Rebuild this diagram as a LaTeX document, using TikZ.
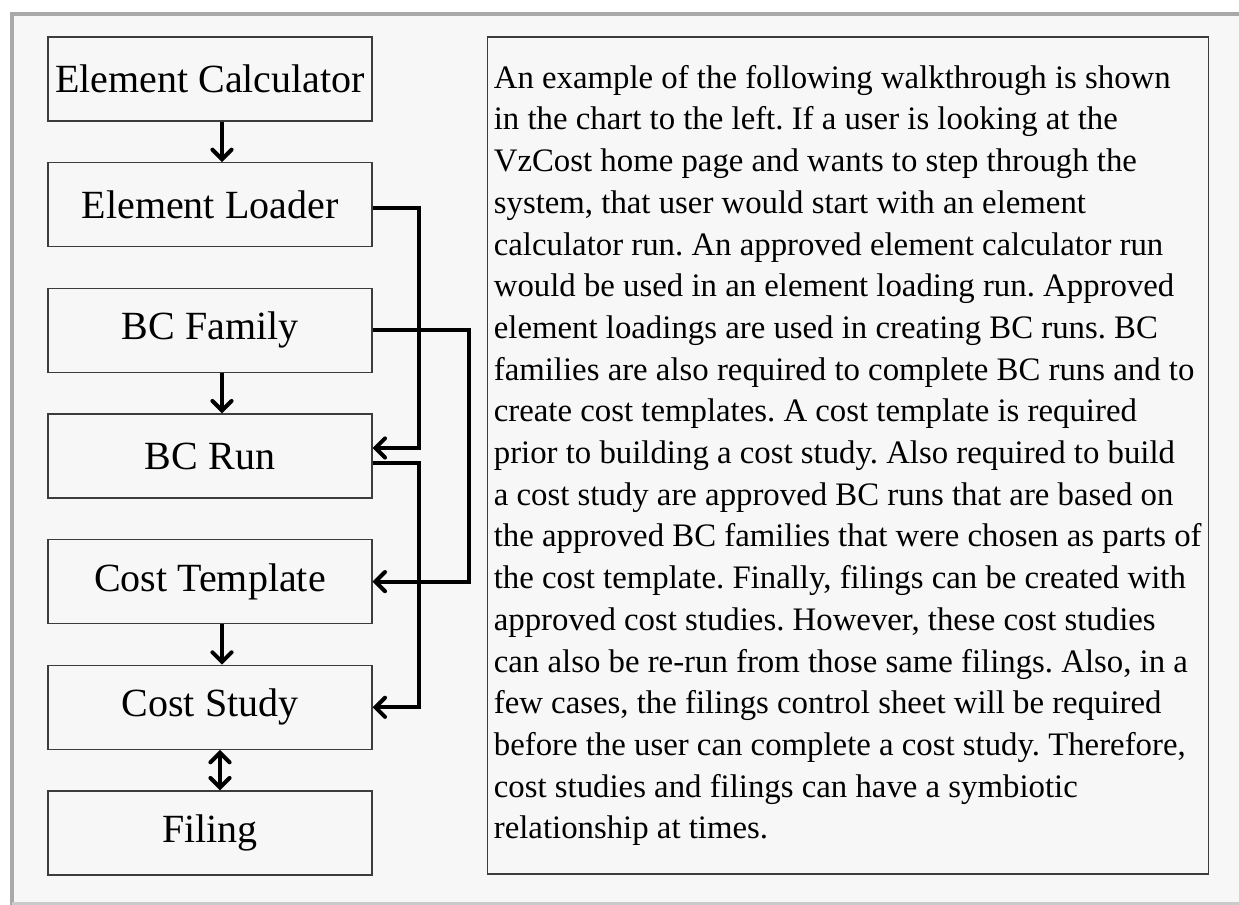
\documentclass[tikz,border=0pt]{standalone}
\usepackage{fontspec}
\setmainfont{Liberation Serif}
\usetikzlibrary{arrows, positioning}
\definecolor{panel}{HTML}{F7F7F7}
\definecolor{framegray}{HTML}{A9A9A9}
\definecolor{boxline}{HTML}{3C3C3C}
\tikzstyle{stage} = [rectangle, minimum width=162pt, minimum height=42pt, text centered, draw=boxline, line width=0.6pt, font=\fontsize{20}{24}\selectfont]
\tikzstyle{notes} = [rectangle, minimum width=360pt, minimum height=418.5pt, align=left, draw=boxline, line width=0.6pt, font=\frenchspacing\fontsize{16.4}{20.85}\selectfont, anchor=north west]
\tikzstyle{arrow} = [line width=2pt,->,>=angle 90]

\begin{document}
\begin{tikzpicture}[node distance=62.83pt]
\useasboundingbox (0,0) rectangle (619.5pt,-452.5pt);
\fill [panel] (5pt,-6pt) rectangle (619.5pt,-452.5pt);
\draw [framegray, line width=2pt] (6pt,-452.5pt) -- (6pt,-7pt) -- (619.5pt,-7pt);
\draw [framegray!60, line width=1.5pt] (6pt,-451.75pt) -- (619.5pt,-451.75pt);

\node (calc) [stage] at (105pt,-39.5pt) {Element Calculator};
\node (loader) [stage, below of=calc] {Element Loader};
\node (family) [stage, below of=loader] {BC Family};
\node (run) [stage, below of=family] {BC Run};
\node (template) [stage, below of=run] {Cost Template};
\node (study) [stage, below of=template] {Cost Study};
\node (filing) [stage, below of=study] {Filing};

\draw [arrow] ([xshift=6pt]calc.south) -- ([xshift=6pt]loader.north);
\draw [arrow] ([xshift=6pt]family.south) -- ([xshift=6pt]run.north);
\draw [arrow] ([xshift=6pt]template.south) -- ([xshift=6pt]study.north);
\draw [arrow, <->] ([xshift=5pt]study.south) -- ([xshift=5pt]filing.north);

\draw [arrow] ([yshift=-1.5pt]loader.east) -- ++(23pt,0) |- ([yshift=4pt]run.east);
\draw [arrow] (family.east) -- ++(48pt,0) |- (template.east);
\draw [arrow] ([yshift=-3.5pt]run.east) -- ++(23pt,0) |- (study.east);

\node (walk) [notes] at ([xshift=57pt]calc.north east) {An example of the following walkthrough is shown\\
in the chart to the left. If a user is looking at the\\
VzCost home page and wants to step through the\\
system, that user would start with an element\\
calculator run. An approved element calculator run\\
would be used in an element loading run. Approved\\
element loadings are used in creating BC runs. BC\\
families are also required to complete BC runs and to\\
create cost templates. A cost template is required\\
prior to building a cost study. Also required to build\\
a cost study are approved BC runs that are based on\\
the approved BC families that were chosen as parts of\\
the cost template. Finally, filings can be created with\\
approved cost studies. However, these cost studies\\
can also be re-run from those same filings. Also, in a\\
few cases, the filings control sheet will be required\\
before the user can complete a cost study. Therefore,\\
cost studies and filings can have a symbiotic\\
relationship at times.};

\end{tikzpicture}
\end{document}
